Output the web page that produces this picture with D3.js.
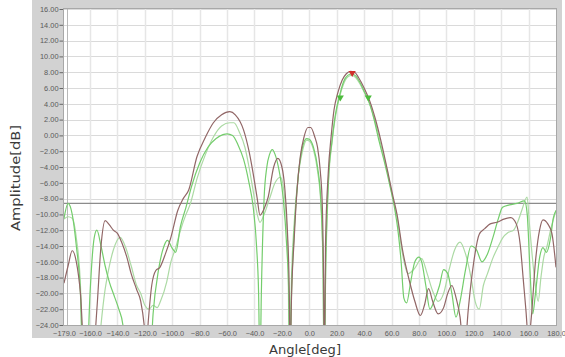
<!DOCTYPE html>
<html><head><meta charset="utf-8">
<script src="https://cdn.jsdelivr.net/npm/d3@7"></script>
<style>body{margin:0;background:#fff}svg{display:block}</style>
</head><body><svg id="c" width="565" height="357"></svg>
<script>
// ---- data ----
const xTicks = [-179,-160,-140,-120,-100,-80,-60,-40,-20,0,20,40,60,80,100,120,140,160,180];
const yTicks = [16,14,12,10,8,6,4,2,0,-2,-4,-6,-8,-10,-12,-14,-16,-18,-20,-22,-24];
const threshold = -8.6;

const brownAngles = [-179,-176,-173,-170,-167,-164,-158,-155,-152,-149,-146,-143,-140,-137,-133,-130,-126,-123,-120.5,-119,-117.5,-115,-112,-109,-105,-101,-96,-92,-88,-82,-76,-70,-64,-58,-54,-48,-44,-41,-38,-36,-33,-30,-26,-23,-20,-18,-16,-14.6,-14,-13.2,-11,-9,-6.6,-4,-1,1,4,6,8,9.5,10.4,11,11.8,13.8,16,18,21,24,27,30,33,36,40,44,48,52,57,61,64,68,73,77,81,84,87,90,94,98,101,104,107,110,113,116,120,124,128,132,137,142,147,151,154,156,158,160,162,165,168,170.5,174,177,180];
const brownValues = [-18.7,-16.5,-14.6,-16,-20,-28,-28,-22,-14,-10.8,-11.3,-12,-12.4,-13.5,-15.5,-17.5,-19.5,-21,-24,-27,-23.5,-19,-17.1,-16.7,-15,-12.9,-9.5,-8,-6.9,-2.7,-0.3,1.6,2.6,3.0,2.6,0.7,-2,-4.8,-8,-10.1,-9.3,-7.8,-4,-2.9,-4,-6.5,-12,-20,-30,-22,-13,-7,-2.7,-0.3,1,1,-0.2,-1.5,-4.5,-9,-18,-30,-14,-4.8,0,3.2,5.5,7,7.8,8.1,8,7.3,6,4.4,2.2,-0.5,-4.4,-7.7,-10,-14.5,-18.4,-21,-22.8,-21.5,-19.4,-21,-22.6,-21.8,-20,-19,-20.5,-23,-28,-22,-16,-12.5,-11.8,-11.2,-11,-10.6,-10.4,-11.2,-14,-18,-22,-26,-23,-16,-12,-10.7,-11.2,-12.4,-16.7];

const greenAngles = [-179,-176,-173,-170,-167,-165,-162,-160,-157,-155,-152,-149,-146,-142,-139,-136,-133,-116,-114,-110,-106,-103.5,-100,-97.5,-94,-90,-86,-80,-74,-68,-63,-60,-56,-52,-48,-44,-41,-38.5,-37,-36,-35,-33,-31,-29,-27,-25,-22,-19,-16.5,-15,-14.3,-13,-11,-8,-5,-2,0,3,6,8.5,10,10.8,12,14,16.5,19,22,25,28,31,34,37,40,43,47,51,55,59,62,65,67,69,71,74,77,80,82,85,88,91,95,98,101,104,107,110,114,118,122,126,130,134,138,141,146,151.6,157,159,161,163,165,168,170.5,173,176,178,180];
const greenValues = [-10.5,-8.6,-10,-14,-20,-30,-28,-20,-13,-12,-14,-16.5,-18.5,-20.5,-22,-24,-30,-28,-22.6,-17,-14,-13.3,-14.3,-14.8,-11.5,-9.1,-6.5,-3.5,-1.5,-0.4,0.1,0.2,0,-1.2,-3,-6,-9,-14,-20,-30,-20,-8,-4,-2.4,-1.8,-2.4,-4.5,-8,-14,-20,-30,-20,-12,-5,-1.5,-0.4,-0.5,-1.5,-4,-8.5,-16,-30,-16,-5.5,-0.8,2.6,5,6.8,7.6,7.8,7.5,6.7,5.6,4.5,2.2,-0.8,-3.5,-6.5,-9,-12.5,-16,-20.6,-21.2,-18.5,-16,-15.4,-16,-19,-22,-21,-19,-17,-17.5,-20,-23,-21,-17,-14,-14.5,-16,-15,-12.9,-10.5,-9.1,-8.8,-8.6,-8.3,-10,-17,-22.6,-20,-15.5,-14.2,-14.8,-13,-10.5,-9.5];

const paleAngles = [-179,-176,-173,-170,-167,-165,-155,-152,-149,-147,-143,-138,-134,-130,-126,-123,-120,-117,-114,-111,-108.6,-104,-101,-98,-94,-90,-86.7,-82,-76,-70,-64,-58,-55,-51,-47,-44,-41,-38,-36,-33,-29,-25,-21,-19,-17,-15.5,-14.5,-13,-11,-8,-5,-2,0,3,6,8.5,10,10.8,12,14,16.5,19,22,25,28,31,34,37,40,44,48,52,57,61,64,68,72,77,82,86,90,94,98,102,106,110,114,118,121,124,127,130,134,138,141,145,149,152,155,158.9,160.5,162.5,165,167,169,171,173.5,176,180];
const paleValues = [-10.6,-10.3,-10.5,-13,-19,-30,-30,-24,-19.5,-17.5,-14.5,-12.9,-14.2,-16.5,-19,-20,-21.5,-22,-21.5,-21.8,-21,-18.5,-16,-14.5,-12,-10,-8.6,-5.5,-2.5,-0.2,1.2,1.6,1.6,0.4,-1.5,-4,-7,-10,-11,-10,-8,-6,-5.3,-6.5,-10,-16,-30,-18,-11,-5,-2,-0.6,-0.7,-1.8,-4.5,-9,-17,-30,-17,-6,-1,2.3,4.8,6.5,7.4,7.6,7.3,6.5,5.5,4,1.8,-1,-4.6,-8,-10.3,-15,-17.5,-16.8,-15.6,-17.5,-19.7,-21,-20,-17,-14.5,-13.5,-15,-18,-21,-22,-19,-17.5,-15.5,-14,-13,-12.3,-12,-11,-9.5,-7.8,-11,-15,-19,-21,-18,-15.5,-14,-12,-9.5];

const markerAngles = [31.3, 22.6, 43];
const markerValues = [7.9, 4.8, 4.8];
const markerColors = ["#d0302a", "#4cbb3c", "#4cbb3c"];

// ---- drawing ----
const svg = d3.select("#c");
const L = 64, R = 556, T = 9, B = 325;
const x = d3.scaleLinear().domain([-179,180]).range([L,R]);
const y = d3.scaleLinear().domain([-24,16]).range([B,T]);

svg.append("rect").attr("x",32).attr("y",0).attr("width",530).attr("height",338).attr("fill","#d2d2d2");
svg.append("rect").attr("x",L).attr("y",T).attr("width",R-L).attr("height",B-T).attr("fill","#fff");

const defs = svg.append("defs");
defs.append("clipPath").attr("id","clip").append("rect").attr("x",L).attr("y",T).attr("width",R-L).attr("height",B-T);

// grid
svg.append("g").selectAll("line").data(yTicks).join("line")
  .attr("x1",L).attr("x2",R).attr("y1",d=>Math.round(y(d))+0.5).attr("y2",d=>Math.round(y(d))+0.5)
  .attr("stroke","#dadada").attr("stroke-width",1);
svg.append("g").selectAll("line").data(xTicks.filter(d=>d!==-179&&d!==180)).join("line")
  .attr("y1",T).attr("y2",B).attr("x1",d=>Math.round(x(d))+0.5).attr("x2",d=>Math.round(x(d))+0.5)
  .attr("stroke","#e6e6e6").attr("stroke-width",1.5);

// axes
const yAxis = d3.axisLeft(y).tickValues(yTicks).tickFormat(d3.format(".2f")).tickSize(4).tickPadding(1);
const gy = svg.append("g").attr("transform",`translate(${L-0.5},0)`).call(yAxis);
const xAxis = d3.axisBottom(x).tickValues(xTicks).tickFormat(d3.format(".1f")).tickSize(0).tickPadding(6);
const gx = svg.append("g").attr("transform",`translate(0,${B})`).call(xAxis);
[gy,gx].forEach(g=>{
  g.select(".domain").remove();
  g.selectAll("text").attr("fill","#5a5a5a").style("font-family","'Liberation Sans'").style("font-size","7.4px");
  g.selectAll("line").attr("stroke","#666");
});

// plot border
svg.append("rect").attr("x",L-0.5).attr("y",T-0.5).attr("width",R-L+1).attr("height",B-T+1)
  .attr("fill","none").attr("stroke","#a8a8a8");
svg.append("line").attr("x1",x(-179)+3.5).attr("x2",x(-179)+3.5).attr("y1",T).attr("y2",B).attr("stroke","#b8b8b8");

const plot = svg.append("g").attr("clip-path","url(#clip)");
// threshold
plot.append("line").attr("x1",L).attr("x2",R).attr("y1",y(threshold)).attr("y2",y(threshold))
  .attr("stroke","#8c8c8c").attr("stroke-width",1.2);

const line = d3.line().x(d=>x(d[0])).y(d=>y(d[1])).curve(d3.curveMonotoneX);
const series = [
  {a:paleAngles, v:paleValues, c:"#acdaa4"},
  {a:greenAngles, v:greenValues, c:"#74cd6c"},
  {a:brownAngles, v:brownValues, c:"#916666"}
];
series.forEach(s=>{
  plot.append("path").datum(s.a.map((a,i)=>[a,s.v[i]]))
    .attr("d",line).attr("fill","none").attr("stroke",s.c).attr("stroke-width",1.2);
});

const tri = d3.symbol().type(d3.symbolTriangle).size(22);
plot.selectAll(".mk").data(markerAngles).join("path")
  .attr("transform",(d,i)=>`translate(${x(d)},${y(markerValues[i])}) rotate(180)`)
  .attr("d",tri).attr("fill",(d,i)=>markerColors[i]);

// titles
svg.append("text").attr("transform","translate(20,178) rotate(-90)").attr("text-anchor","middle")
  .attr("textLength",106).attr("lengthAdjust","spacingAndGlyphs")
  .style("font-family","'DejaVu Sans'").style("font-size","13px").attr("fill","#3a3a3a").text("Amplitude[dB]");
svg.append("text").attr("x",305).attr("y",354).attr("text-anchor","middle")
  .attr("textLength",72).attr("lengthAdjust","spacingAndGlyphs")
  .style("font-family","'DejaVu Sans'").style("font-size","13px").attr("fill","#3a3a3a").text("Angle[deg]");
</script></body></html>
